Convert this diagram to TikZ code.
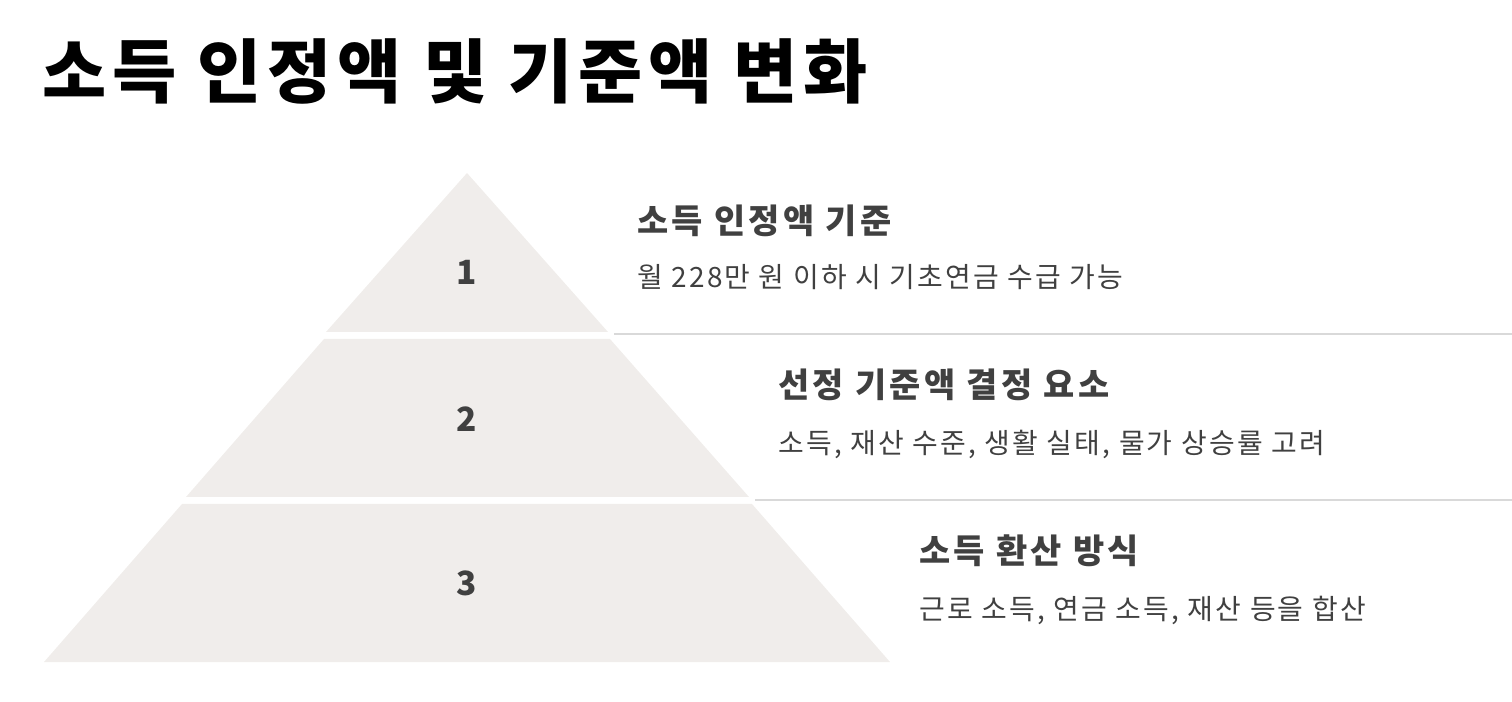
\documentclass[tikz,border=0pt]{standalone}
\usepackage{fontspec}
\setmainfont{Noto Sans CJK KR}
\newfontfamily\krfont[LetterSpace=8]{Noto Sans CJK KR}
\newfontfamily\krhead[LetterSpace=10]{Noto Sans CJK KR}
\usetikzlibrary{positioning}
\definecolor{tierfill}{HTML}{F0EDEB}
\definecolor{txtgray}{HTML}{404040}
\definecolor{sepgray}{HTML}{D9D9D9}

\begin{document}
\begin{tikzpicture}[
  x=0.02cm, y=-0.02cm,
  tier/.style={fill=tierfill, draw=none},
  num/.style={font=\krfont\fontsize{19}{22}\selectfont\bfseries, text=txtgray, inner sep=0pt},
  head/.style={anchor=base west, inner sep=0pt, font=\krhead\fontsize{19.3}{22}\selectfont\bfseries, text=txtgray},
  body/.style={anchor=base west, inner sep=0pt, font=\krfont\fontsize{15.9}{19}\selectfont, text=txtgray},
  sep/.style={draw=sepgray, line width=1.5pt}
]
\useasboundingbox (0,0) rectangle (1512,702);

\node[anchor=base west, inner sep=0pt, font=\krfont\fontsize{39.7}{44}\selectfont\bfseries] (title) at (42,98) {소득 인정액 및 기준액 변화};

% pyramid tiers
\fill[tier] (467,173) -- (608,332) -- (326,332) -- cycle;
\fill[tier] (324,339) -- (610,339) -- (749,497) -- (186,497) -- cycle;
\fill[tier] (182,504) -- (752,504) -- (890,662) -- (44,662) -- cycle;

\node[num] (n1) at (467,272) {1};
\node[num] (n2) at (467,419) {2};
\node[num] (n3) at (467,583) {3};

% separators
\coordinate (s1a) at (614,334);
\coordinate (s1b) at (1512,334);
\coordinate (s2a) at (755,500);
\coordinate (s2b) at (1512,500);
\draw[sep] (s1a) -- (s1b);
\draw[sep] (s2a) -- (s2b);

\node[head] (h1) at (637,234) {소득 인정액 기준};
\node[body] (b1) at (637,288) {월 228만 원 이하 시 기초연금 수급 가능};
\node[head] (h2) at (778,398) {선정 기준액 결정 요소};
\node[body] (b2) at (778,454) {소득, 재산 수준, 생활 실태, 물가 상승률 고려};
\node[head] (h3) at (919,563) {소득 환산 방식};
\node[body] (b3) at (919,620) {근로 소득, 연금 소득, 재산 등을 합산};
\end{tikzpicture}
\end{document}
